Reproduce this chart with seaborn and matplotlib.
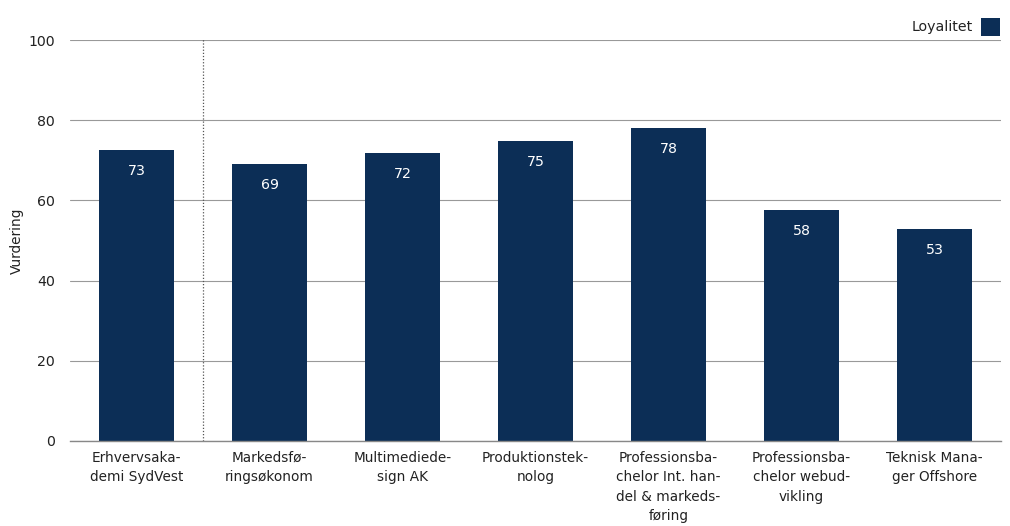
import matplotlib
matplotlib.use("Agg")
import matplotlib.pyplot as plt
import seaborn as sns
import pandas as pd

categories = [
    "Erhvervsaka-\ndemi SydVest",
    "Markedsfø-\nringsøkonom",
    "Multimediede-\nsign AK",
    "Produktionstek-\nnolog",
    "Professionsba-\nchelor Int. han-\ndel & markeds-\nføring",
    "Professionsba-\nchelor webud-\nvikling",
    "Teknisk Mana-\nger Offshore",
]
values = [72.6, 69.1, 71.8, 74.8, 78.0, 57.6, 52.9]
labels = ["73", "69", "72", "75", "78", "58", "53"]
series_name = "Loyalitet"

df = pd.DataFrame({"kategori": categories, "vaerdi": values})

sns.set_theme(style="white")
plt.rcParams["font.family"] = ["DejaVu Sans"]

bar_color = "#0c2e56"
text_color = "#222222"
fs = 9.8

fig = plt.figure(figsize=(10.1, 5.26), dpi=100)
ax = fig.add_axes([70 / 1010, 1 - 441 / 526, 931 / 1010, 401 / 526])

sns.barplot(data=df, x="kategori", y="vaerdi", color=bar_color, width=0.57,
            saturation=1, label=series_name, linewidth=0, ax=ax)

for i, (v, lab) in enumerate(zip(values, labels)):
    ax.annotate(lab, xy=(i, v), xytext=(0, -15), textcoords="offset points",
                ha="center", va="center", color="white", fontsize=10.2)

ax.set_ylim(0, 100)
ax.set_xlim(-0.5, len(categories) - 0.5)
ax.set_yticks([0, 20, 40, 60, 80, 100])
ax.yaxis.grid(True, color="#999999", linewidth=0.8)
ax.set_axisbelow(True)
for s in ["top", "right", "left"]:
    ax.spines[s].set_visible(False)
ax.spines["bottom"].set_color("#888888")
ax.spines["bottom"].set_linewidth(1)

ax.tick_params(axis="y", length=5, color="#999999", width=0.8, labelsize=10.2,
               labelcolor=text_color, pad=6)
ax.tick_params(axis="x", length=0, labelsize=fs, labelcolor=text_color, pad=7)
for t in ax.get_xticklabels():
    t.set_linespacing(1.5)
ax.set_xlabel("")
ax.set_ylabel("Vurdering", fontsize=fs, color=text_color, labelpad=3)

# dotted separator after first category
ax.axvline(0.5, color="#555555", linestyle=(0, (1, 1.5)), linewidth=0.9, ymax=1.005,
           clip_on=False)

leg = ax.legend(loc="lower right", bbox_to_anchor=(1.003, 1.0), frameon=False,
                markerfirst=False, fontsize=10.2, handlelength=1.3, handleheight=1.6,
                handletextpad=0.6, borderaxespad=0.1, borderpad=0.2)
for t in leg.get_texts():
    t.set_color(text_color)

fig.savefig("out.png", dpi=100)
